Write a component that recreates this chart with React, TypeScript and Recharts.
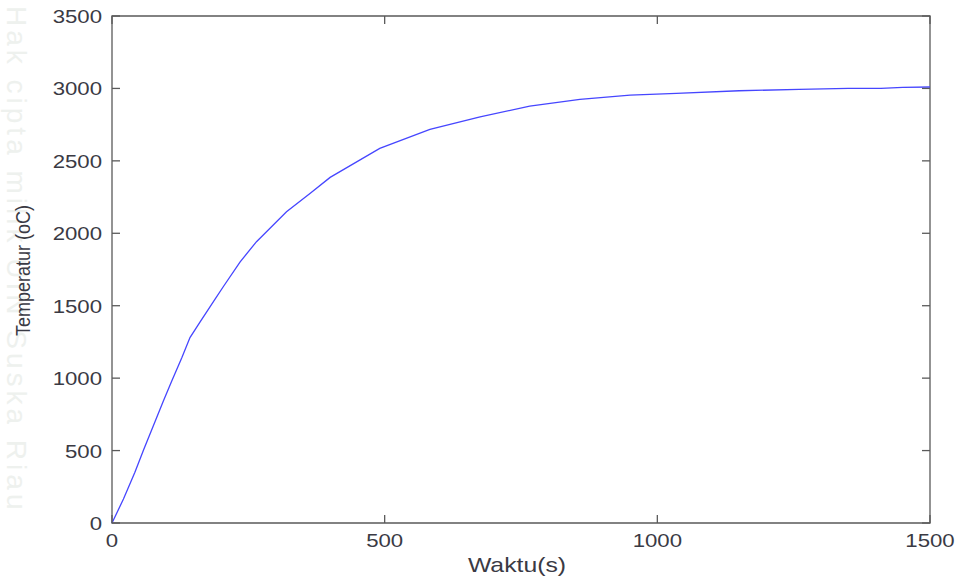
import React from "react";
import { LineChart, Line, XAxis, YAxis, ReferenceArea } from "recharts";

const timeS = [0, 21, 42, 58, 79, 94, 109, 128, 143, 161, 189, 204, 235, 265, 320, 363, 400, 491, 583, 675, 766, 858, 950, 1035, 1150, 1260, 1350, 1410, 1450, 1500];
const temperature = [0, 165, 350, 505, 700, 840, 975, 1140, 1280, 1385, 1545, 1631, 1803, 1942, 2148, 2275, 2386, 2586, 2717, 2804, 2878, 2924, 2954, 2966, 2984, 2993, 3000, 3000, 3007, 3010];
const xTicks = [0, 500, 1000, 1500];
const yTicks = [0, 500, 1000, 1500, 2000, 2500, 3000, 3500];
const xLabel = "Waktu(s)";
const yLabel = "Temperatur (oC)";
const watermark = "Hak cipta milik UIN Suska Riau";

const data = timeS.map((t, i) => ({ t, T: temperature[i] }));

const W = 957;
const H = 581;
const PLOT_LEFT = 112;
const PLOT_TOP = 16;
const PLOT_RIGHT = 930;
const PLOT_BOTTOM = 523;
const TICK_LEN = 8;
const AXIS_COLOR = "#5a5a5a";
const TEXT_COLOR = "#3a3a44";
const FONT = "'Liberation Sans', Arial, sans-serif";

const XTick = (props: any) => {
  const { x, payload } = props;
  return (
    <g>
      <line x1={x} y1={PLOT_BOTTOM} x2={x} y2={PLOT_BOTTOM - TICK_LEN} stroke={AXIS_COLOR} strokeWidth={1.3} />
      <line x1={x} y1={PLOT_TOP} x2={x} y2={PLOT_TOP + TICK_LEN} stroke={AXIS_COLOR} strokeWidth={1.3} />
      <text
        transform={`translate(${x},${PLOT_BOTTOM + 24}) scale(1.2,1)`}
        textAnchor="middle"
        fontFamily={FONT}
        fontSize={18.5}
        fill={TEXT_COLOR}
      >
        {payload.value}
      </text>
    </g>
  );
};

const YTick = (props: any) => {
  const { y, payload } = props;
  return (
    <g>
      <line x1={PLOT_LEFT} y1={y} x2={PLOT_LEFT + TICK_LEN} y2={y} stroke={AXIS_COLOR} strokeWidth={1.3} />
      <line x1={PLOT_RIGHT} y1={y} x2={PLOT_RIGHT - TICK_LEN} y2={y} stroke={AXIS_COLOR} strokeWidth={1.3} />
      <text
        transform={`translate(${PLOT_LEFT - 10},${y + 7}) scale(1.2,1)`}
        textAnchor="end"
        fontFamily={FONT}
        fontSize={18.5}
        fill={TEXT_COLOR}
      >
        {payload.value}
      </text>
    </g>
  );
};

export default function App() {
  return (
    <div style={{ position: "absolute", left: 0, top: 0, width: W, height: H, background: "#ffffff" }}>
      <svg width={W} height={H} style={{ position: "absolute", left: 0, top: 0 }}>
        <text
          transform={`translate(7,6) rotate(90)`}
          fontFamily={FONT}
          fontSize={28}
          fill="#eef1ee"
          letterSpacing={4}
        >
          {watermark}
        </text>
        <text
          transform={`translate(${(PLOT_LEFT + PLOT_RIGHT) / 2 - 4},${H - 9}) scale(1.24,1)`}
          textAnchor="middle"
          fontFamily={FONT}
          fontSize={20}
          fill={TEXT_COLOR}
        >
          {xLabel}
        </text>
        <text
          transform={`translate(30,${(PLOT_TOP + PLOT_BOTTOM) / 2 + 1}) scale(1.15,1) rotate(-90)`}
          textAnchor="middle"
          fontFamily={FONT}
          fontSize={18}
          fill={TEXT_COLOR}
        >
          {yLabel}
        </text>
      </svg>
      <div style={{ position: "absolute", left: 0, top: 0 }}>
        <LineChart
          width={W}
          height={H}
          data={data}
          margin={{ top: PLOT_TOP, right: W - PLOT_RIGHT, bottom: 0, left: 0 }}
        >
          <XAxis
            dataKey="t"
            type="number"
            domain={[0, 1500]}
            ticks={xTicks}
            height={H - PLOT_BOTTOM}
            axisLine={false}
            tickLine={false}
            tickSize={0}
            tickMargin={0}
            tick={<XTick />}
            interval={0}
          />
          <YAxis
            type="number"
            domain={[0, 3500]}
            ticks={yTicks}
            width={PLOT_LEFT}
            axisLine={false}
            tickLine={false}
            tickSize={0}
            tickMargin={0}
            tick={<YTick />}
            interval={0}
          />
          <ReferenceArea
            x1={0}
            x2={1500}
            y1={0}
            y2={3500}
            fill="none"
            fillOpacity={0}
            stroke={AXIS_COLOR}
            strokeWidth={1.3}
            isAnimationActive={false}
          />
          <Line
            dataKey="T"
            type="linear"
            stroke="#4646ff"
            strokeWidth={1.3}
            dot={false}
            activeDot={false}
            isAnimationActive={false}
          />
        </LineChart>
      </div>
    </div>
  );
}
